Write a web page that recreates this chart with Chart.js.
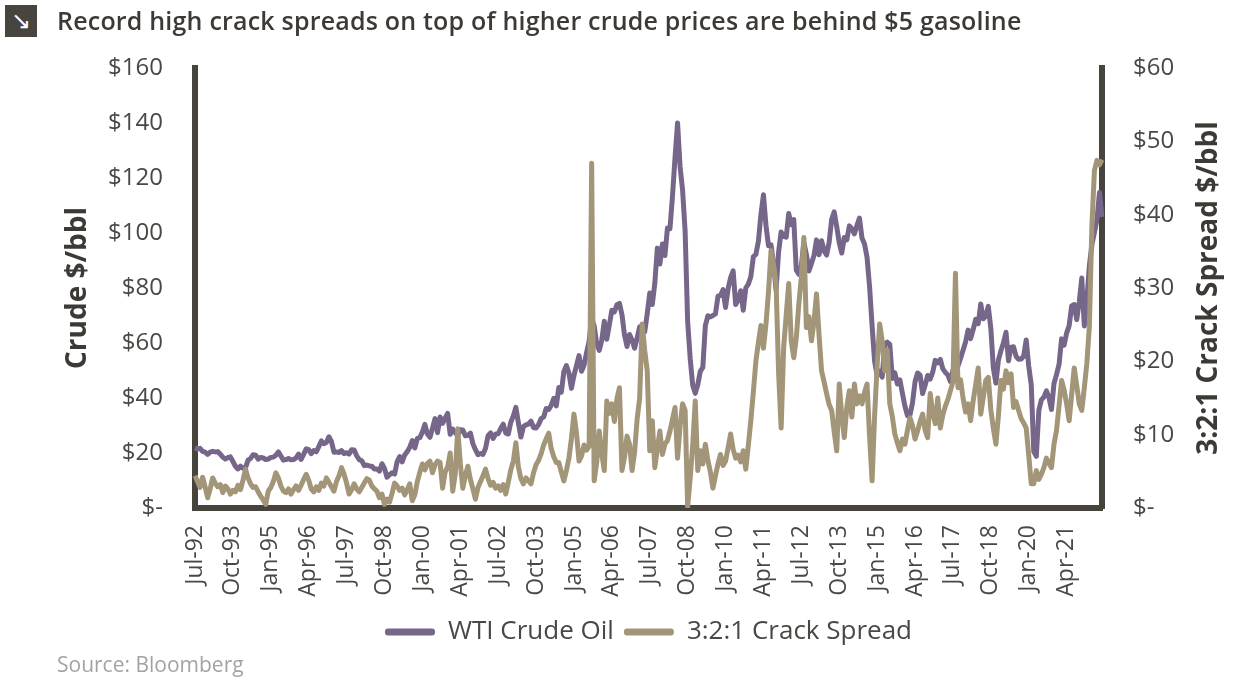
<!DOCTYPE html>
<html>
<head>
<meta charset="utf-8">
<script src="https://cdn.jsdelivr.net/npm/chart.js@4.4.0/dist/chart.umd.min.js"></script>
<style>
  html, body { margin: 0; padding: 0; background: #fff; }
  #wrap { position: relative; width: 1254px; height: 683px; overflow: hidden; font-family: "Open Sans", sans-serif; }
  #icono { position: absolute; left: 5px; top: 5px; width: 32px; height: 32px; background: #48443e; color: #fff; font: 24px "DejaVu Sans"; line-height: 32px; text-align: center; }
  #titulo { position: absolute; left: 57px; top: 3px; font-size: 25px; letter-spacing: 0.2px; font-weight: 600; color: #3d3a36; white-space: nowrap; }
  #fuente { position: absolute; left: 57px; top: 650px; font-size: 21px; color: #a3a3a3; }
  #grafica { position: absolute; left: 0; top: 0; }
</style>
</head>
<body>
<div id="wrap">
  <canvas id="grafica" width="1254" height="683"></canvas>
  <div id="icono">&#8600;</div>
  <div id="titulo">Record high crack spreads on top of higher crude prices are behind $5 gasoline</div>
  <div id="fuente">Source: Bloomberg</div>
</div>
<script>
// meses: Jul-92 ... Jun-22 (fin de mes)
var nombresMes = ['Jan', 'Feb', 'Mar', 'Apr', 'May', 'Jun', 'Jul', 'Aug', 'Sep', 'Oct', 'Nov', 'Dec'];
var meses = [];
for (var a = 1992; a <= 2022; a++) {
    for (var m = 0; m < 12; m++) {
        if (a === 1992 && m < 6) continue;
        if (a === 2022 && m > 5) continue;
        meses.push(nombresMes[m] + '-' + String(a).slice(2));
    }
}

// WTI Crude Oil, $/bbl (cada fila Jul..Jun)
var wti = [
    21.9, 21.5, 21.7, 20.6, 20.3, 19.5, 20.3, 20.6, 20.4, 20.5, 19.6, 18.5,
    17.8, 18.3, 18.6, 16.9, 15.2, 14.2, 15.2, 14.5, 14.7, 17.4, 18.0, 19.4,
    19.2, 17.8, 18.4, 18.2, 17.6, 17.8, 18.4, 18.5, 19.2, 20.4, 18.9, 17.4,
    17.6, 18.0, 17.5, 17.6, 18.2, 19.6, 17.7, 19.5, 21.5, 21.2, 19.8, 20.9,
    20.4, 22.3, 24.4, 23.4, 23.8, 25.9, 24.2, 20.3, 20.4, 20.2, 20.9, 19.8,
    20.1, 19.6, 21.2, 21.1, 19.0, 17.6, 17.2, 15.4, 15.6, 15.3, 15.2, 14.2,
    14.2, 13.4, 16.1, 14.4, 11.2, 12.1, 12.8, 12.3, 16.8, 18.7, 16.8, 19.3,
    20.5, 22.1, 24.5, 21.8, 25.3, 25.6, 27.6, 30.4, 26.9, 25.7, 29.0, 32.5,
    27.4, 33.1, 30.8, 32.7, 34.4, 26.8, 28.7, 27.4, 26.3, 28.5, 28.4, 26.3,
    26.4, 27.2, 23.4, 21.2, 19.4, 19.8, 19.5, 21.7, 26.3, 27.3, 25.3, 26.9,
    27.0, 28.9, 30.5, 27.2, 26.9, 31.2, 33.5, 36.6, 31.0, 25.8, 29.6, 30.2,
    30.5, 31.6, 29.2, 29.1, 30.4, 32.5, 33.1, 36.2, 35.8, 37.4, 39.9, 37.1,
    43.8, 42.1, 49.6, 51.8, 49.1, 43.5, 48.2, 51.8, 55.4, 49.7, 52.0, 56.5,
    60.6, 68.9, 66.2, 59.8, 57.3, 61.0, 67.9, 61.4, 66.6, 71.9, 71.3, 73.9,
    74.4, 70.3, 62.9, 58.7, 63.1, 61.1, 58.1, 61.8, 65.9, 65.7, 64.0, 70.7,
    78.2, 74.0, 81.7, 94.5, 88.7, 96.0, 91.8, 101.8, 101.6, 113.5, 127.4, 140.0,
    124.1, 115.5, 100.6, 67.8, 54.4, 44.6, 41.7, 44.8, 49.7, 51.1, 66.3, 69.9,
    69.5, 70.0, 70.6, 77.0, 77.3, 79.4, 72.9, 79.7, 83.8, 86.2, 74.0, 75.6,
    79.0, 71.9, 80.0, 81.4, 84.1, 91.4, 92.2, 97.0, 106.7, 113.9, 102.7, 95.4,
    95.7, 88.8, 79.2, 93.2, 100.4, 98.8, 98.5, 107.1, 103.0, 104.9, 86.5, 85.0,
    88.1, 96.5, 92.2, 86.2, 88.9, 91.8, 97.5, 92.1, 97.2, 93.5, 92.0, 96.6,
    105.0, 107.7, 102.3, 96.4, 92.7, 98.4, 97.5, 102.6, 101.6, 99.7, 102.7, 105.4,
    98.2, 96.0, 91.2, 80.5, 66.2, 53.3, 48.2, 49.8, 47.6, 59.6, 60.3, 59.5,
    47.1, 49.2, 45.1, 46.6, 41.7, 37.0, 33.6, 33.8, 38.3, 45.9, 49.1, 48.3,
    41.6, 44.7, 48.2, 46.9, 49.4, 53.7, 52.8, 54.0, 50.6, 49.3, 48.3, 46.0,
    50.2, 47.2, 51.7, 54.4, 57.4, 60.4, 64.7, 61.6, 64.9, 68.6, 67.0, 74.2,
    68.8, 69.8, 73.3, 65.3, 50.9, 45.4, 53.8, 57.2, 60.1, 63.9, 53.5, 58.5,
    58.6, 55.1, 54.1, 54.2, 55.2, 61.1, 51.6, 44.8, 20.5, 18.8, 35.5, 39.3,
    40.3, 42.6, 40.2, 35.8, 45.3, 48.5, 52.2, 61.5, 59.2, 63.6, 66.3, 73.5,
    74.0, 68.5, 75.0, 83.6, 66.2, 75.2, 88.2, 95.7, 100.3, 104.7, 114.7, 105.8
];

// 3:2:1 Crack Spread, $/bbl (cada fila Jul..Jun)
var crack = [
    4.4, 3.6, 2.8, 4.2, 2.9, 1.4, 2.6, 4.1, 3.4, 2.9, 3.2, 2.1,
    3.0, 2.6, 1.9, 2.4, 2.2, 3.1, 2.5, 3.8, 5.3, 4.1, 3.3, 2.8,
    2.9, 2.2, 1.6, 1.1, 0.5, 2.3, 2.8, 3.6, 4.8, 4.1, 3.0, 2.3,
    2.1, 2.6, 1.9, 2.5, 3.0, 2.4, 3.1, 3.9, 4.6, 3.8, 2.6, 2.2,
    2.9, 2.4, 3.4, 3.0, 4.1, 3.5, 2.9, 2.3, 3.6, 4.4, 5.5, 4.6,
    3.4, 1.9, 2.5, 3.3, 2.6, 2.2, 2.8, 3.4, 4.0, 3.8, 3.0, 2.6,
    2.3, 1.4, 1.9, 0.5, 1.2, 0.8, 2.0, 3.4, 3.0, 2.4, 2.7, 1.8,
    2.5, 3.3, 1.0, 1.8, 3.6, 4.9, 6.0, 5.2, 6.1, 6.4, 4.8, 5.9,
    6.4, 6.2, 2.7, 4.9, 5.6, 7.5, 2.3, 4.6, 10.8, 6.1, 2.7, 4.4,
    5.7, 3.9, 2.6, 1.2, 2.8, 3.6, 4.4, 5.3, 4.0, 3.1, 3.5, 2.7,
    3.0, 2.4, 3.2, 1.9, 3.5, 5.2, 6.4, 8.9, 5.6, 4.0, 3.3, 4.1,
    3.7, 3.3, 4.8, 5.9, 6.5, 7.4, 8.6, 9.4, 10.2, 8.1, 7.0, 6.2,
    6.2, 4.9, 3.7, 5.1, 6.8, 9.5, 12.8, 10.2, 6.4, 7.1, 8.6, 7.9,
    8.4, 47.0, 3.7, 6.2, 10.5, 7.4, 5.1, 14.6, 12.9, 14.2, 11.8, 14.9,
    16.4, 5.1, 6.9, 9.8, 8.7, 5.1, 7.6, 12.1, 15.0, 25.1, 21.5, 18.7,
    7.8, 11.9, 5.5, 8.1, 10.5, 7.3, 8.7, 9.2, 10.5, 12.1, 13.7, 6.8,
    11.2, 14.2, 13.3, 0.2, 4.1, 8.5, 14.6, 5.1, 7.8, 6.0, 8.7, 6.5,
    4.9, 2.7, 4.4, 6.0, 7.3, 5.8, 6.4, 8.2, 10.1, 8.0, 6.8, 7.2,
    6.3, 7.8, 5.3, 8.5, 11.9, 15.8, 20.0, 22.6, 24.9, 21.8, 25.1, 29.5,
    35.1, 33.2, 30.6, 18.4, 10.9, 21.9, 26.3, 30.6, 22.8, 20.5, 23.2, 27.8,
    31.5, 36.9, 24.6, 26.1, 22.8, 25.4, 29.2, 23.6, 18.7, 17.2, 15.6, 14.1,
    13.3, 10.4, 7.8, 16.9, 12.5, 9.6, 13.8, 16.0, 12.4, 16.9, 14.2, 15.3,
    14.2, 15.8, 16.9, 9.8, 3.7, 12.6, 19.4, 25.1, 22.8, 18.7, 21.5, 14.2,
    12.5, 10.1, 8.9, 7.8, 9.4, 8.7, 10.6, 12.3, 11.2, 9.4, 10.5, 11.8,
    12.8, 10.6, 9.6, 15.6, 12.9, 11.5, 15.0, 10.9, 12.7, 13.9, 14.8, 16.0,
    17.2, 32.0, 16.4, 17.5, 15.0, 13.1, 14.2, 11.9, 14.6, 16.8, 19.1, 12.8,
    15.1, 17.4, 17.8, 13.4, 10.9, 8.7, 12.6, 17.4, 16.2, 18.7, 17.1, 18.3,
    13.7, 14.5, 13.3, 12.2, 11.6, 10.9, 7.2, 3.3, 3.3, 5.1, 3.9, 4.6,
    5.5, 6.8, 6.1, 5.5, 8.7, 10.6, 13.9, 17.4, 16.1, 14.2, 11.9, 15.5,
    19.1, 16.7, 14.2, 13.3, 16.4, 19.7, 24.8, 38.5, 46.0, 47.4, 46.8, 47.5
];

var morado = '#76668a';
var arena = '#a29578';
var eje = '#47433d';
var texto = '#4a4845';

// titulo del eje derecho, se lee de abajo hacia arriba como el izquierdo
var tituloDerecho = {
    id: 'tituloDerecho',
    afterDraw: function(chart) {
        var c = chart.ctx;
        var area = chart.chartArea;
        c.save();
        c.translate(1209, (area.top + area.bottom) / 2);
        c.rotate(-Math.PI / 2);
        c.font = 'bold 28px "Open Sans"';
        c.fillStyle = '#3d3a36';
        c.textAlign = 'center';
        c.textBaseline = 'middle';
        c.fillText('3:2:1 Crack Spread $/bbl', 0, 0);
        c.restore();
    }
};

var ctx = document.getElementById('grafica').getContext('2d');

var miGrafico = new Chart(ctx, {
    type: 'line',
    data: {
        labels: meses,
        datasets: [{
            label: 'WTI Crude Oil',
            data: wti,
            yAxisID: 'y',
            borderColor: morado,
            backgroundColor: morado,
            borderWidth: 5,
            pointRadius: 0,
            tension: 0,
            borderJoinStyle: 'round',
            order: 1
        }, {
            label: '3:2:1 Crack Spread',
            data: crack,
            yAxisID: 'y1',
            borderColor: arena,
            backgroundColor: arena,
            borderWidth: 5,
            pointRadius: 0,
            tension: 0,
            borderJoinStyle: 'round',
            order: 0
        }]
    },
    options: {
        responsive: false,
        animation: false,
        layout: { padding: { top: 68, bottom: 28, left: 0, right: 0 } },
        plugins: {
            tooltip: { enabled: false },
            legend: {
                position: 'bottom',
                fullSize: false,
                labels: {
                    boxWidth: 50,
                    boxHeight: 7,
                    useBorderRadius: true,
                    borderRadius: 3,
                    padding: 10,
                    color: texto,
                    font: { family: '"Open Sans"', size: 26 },
                    sort: function(a, b) { return a.datasetIndex - b.datasetIndex; },
                    generateLabels: function(chart) {
                        return Chart.defaults.plugins.legend.labels.generateLabels(chart).map(function(l) {
                            l.lineWidth = 0;
                            return l;
                        });
                    }
                }
            }
        },
        scales: {
            x: {
                grid: { display: false, drawTicks: false },
                border: { display: true, color: eje, width: 6 },
                ticks: {
                    autoSkip: false,
                    minRotation: 90,
                    maxRotation: 90,
                    padding: 17,
                    color: texto,
                    font: { family: '"Open Sans"', size: 23 },
                    callback: function(v, i) {
                        return i % 15 === 0 ? this.getLabelForValue(v) : null;
                    }
                },
                afterFit: function(s) { s.height = 101; }
            },
            y: {
                position: 'left',
                min: 0,
                max: 160,
                grid: { display: false, drawTicks: false },
                border: { display: true, color: eje, width: 6 },
                ticks: {
                    stepSize: 20,
                    padding: 32,
                    color: texto,
                    font: { family: '"Open Sans"', size: 24 },
                    callback: function(v) { return v === 0 ? '$-' : '$' + v; }
                },
                title: {
                    display: true,
                    text: 'Crude $/bbl',
                    color: '#3d3a36',
                    font: { family: '"Open Sans"', size: 28, weight: 'bold' },
                    padding: { top: 61, bottom: 0 }
                },
                afterFit: function(s) { s.width = 195; }
            },
            y1: {
                position: 'right',
                min: 0,
                max: 60,
                grid: { display: false, drawTicks: false },
                border: { display: true, color: eje, width: 6 },
                ticks: {
                    stepSize: 10,
                    padding: 31,
                    color: texto,
                    font: { family: '"Open Sans"', size: 24 },
                    callback: function(v) { return v === 0 ? '$-' : '$' + v; }
                },
                afterFit: function(s) { s.width = 152; }
            }
        }
    },
    plugins: [tituloDerecho]
});
</script>
</body>
</html>
